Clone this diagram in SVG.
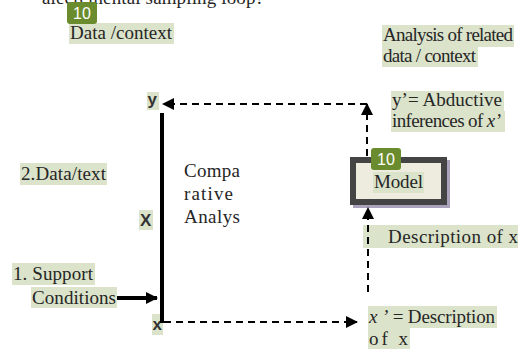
<svg xmlns="http://www.w3.org/2000/svg" width="518" height="349" viewBox="0 0 518 349">
<defs>
<style>
.t{font-family:"Liberation Serif","Times New Roman",serif;font-size:19px;fill:#262626}
.hl{fill:#dbe3cb}
.b{font-family:"Liberation Sans",Arial,sans-serif;font-weight:bold;font-size:17px;fill:#333}
.badge{fill:#6a8c2e}
.bt{font-family:"Liberation Sans",Arial,sans-serif;font-size:16px;fill:#fff;text-anchor:middle}
.dash{fill:none;stroke:#000;stroke-width:2;stroke-dasharray:7,5}
</style>
<marker id="ah" markerWidth="12" markerHeight="12" refX="11" refY="6" orient="auto" markerUnits="userSpaceOnUse">
<path d="M0,0 L12,6 L0,12 z" fill="#000"/>
</marker>
</defs>
<rect width="518" height="349" fill="#fff"/>
<text class="t" x="42" y="4" textLength="222">alecremental sampling loop?</text>

<g id="data-context">
<rect class="hl" x="69" y="23" width="105" height="21"/>
<text class="t" x="70" y="39" textLength="102">Data /context</text>
<rect class="badge" x="67" y="2" width="30" height="22" rx="3"/>
<text class="bt" x="82" y="19">10</text>
</g>

<g id="analysis">
<rect class="hl" x="382" y="25" width="132" height="22"/>
<rect class="hl" x="382" y="47" width="96" height="20"/>
<text class="t" x="383" y="41" textLength="130">Analysis of related</text>
<text class="t" x="383" y="62" textLength="93">data / context</text>
</g>

<g id="y-label">
<rect class="hl" x="147" y="92" width="12" height="18"/>
<text class="b" x="147.5" y="105">y</text>
</g>

<g id="y-prime">
<rect class="hl" x="391" y="91" width="113" height="20"/>
<rect class="hl" x="391" y="111" width="114" height="21"/>
<text class="t" x="392" y="106" textLength="110">y’= Abductive</text>
<text class="t" x="392" y="127" textLength="109">inferences of <tspan font-style="italic">x’</tspan></text>
</g>

<g id="model">
<rect x="353" y="160" width="97" height="48" fill="#aaa2bb"/>
<rect x="353" y="160" width="91" height="42" fill="#eeecdf" stroke="#444" stroke-width="6"/>
<rect class="hl" x="373" y="172" width="51" height="21"/>
<text class="t" x="374" y="188" textLength="49">Model</text>
<rect class="badge" x="371" y="148" width="30" height="22" rx="3"/>
<text class="bt" x="386" y="165">10</text>
</g>

<g id="description">
<rect class="hl" x="363" y="225" width="155" height="23"/>
<text class="t" x="388" y="243" textLength="130">Description of  x</text>
</g>

<g id="data-text">
<rect class="hl" x="20" y="163" width="87" height="22"/>
<text class="t" x="21" y="180" textLength="85">2.Data/text</text>
</g>

<g id="comparative">
<text class="t" x="184" y="177" textLength="56">Compa</text>
<text class="t" x="184" y="200" textLength="49">rative</text>
<text class="t" x="184" y="223" textLength="56">Analys</text>
</g>

<g id="X-label">
<rect class="hl" x="139" y="210" width="14" height="20"/>
<text class="b" x="140" y="226">X</text>
</g>

<g id="support">
<rect class="hl" x="12" y="263" width="83" height="22"/>
<rect class="hl" x="31" y="287" width="86" height="21"/>
<text class="t" x="13" y="280" textLength="80">1. Support</text>
<text class="t" x="32" y="304" textLength="84">Conditions</text>
</g>

<g id="x-label">
<rect class="hl" x="152" y="314" width="11" height="21"/>
<text class="b" x="152.5" y="330">x</text>
</g>

<g id="x-prime">
<rect class="hl" x="368" y="306" width="129" height="22"/>
<rect class="hl" x="368" y="328" width="42" height="21"/>
<text class="t" x="369" y="323" textLength="126"><tspan font-style="italic">x ’</tspan> = Description</text>
<text class="t" x="369" y="345" textLength="39">of  x</text>
</g>

<g id="connectors">
<line x1="162" y1="113" x2="162" y2="323" stroke="#000" stroke-width="4"/>
<line x1="117" y1="298" x2="157" y2="298" stroke="#000" stroke-width="4" marker-end="url(#ah)"/>
<line class="dash" x1="164" y1="322" x2="357" y2="322" marker-end="url(#ah)"/>
<line class="dash" x1="367" y1="156" x2="367" y2="104" marker-end="url(#ah)" stroke-dasharray="8,6"/>
<line class="dash" x1="367" y1="104" x2="163" y2="104" marker-end="url(#ah)"/>
<line class="dash" x1="368" y1="292" x2="368" y2="208" marker-end="url(#ah)"/>
</g>
</svg>
